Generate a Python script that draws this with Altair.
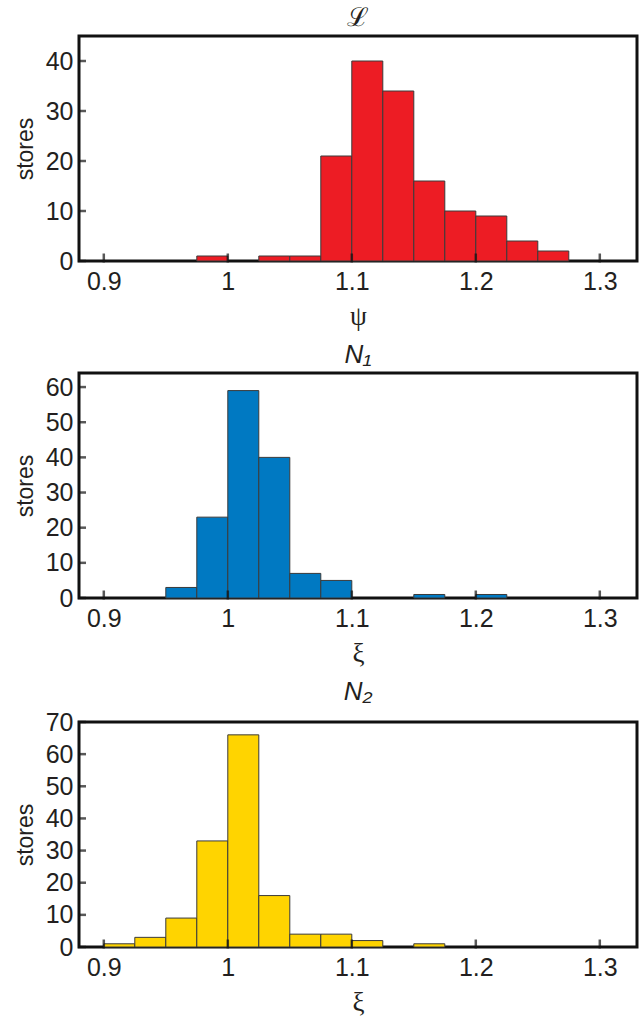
import altair as alt
import pandas as pd

# Histogram bins (width 0.025) and store counts for each panel
bin_width = 0.025

psi_starts = [0.975, 1.025, 1.05, 1.075, 1.1, 1.125, 1.15, 1.175, 1.2, 1.225, 1.25]
psi_counts = [1, 1, 1, 21, 40, 34, 16, 10, 9, 4, 2]

n1_starts = [0.95, 0.975, 1.0, 1.025, 1.05, 1.075, 1.15, 1.2]
n1_counts = [3, 23, 59, 40, 7, 5, 1, 1]

n2_starts = [0.9, 0.925, 0.95, 0.975, 1.0, 1.025, 1.05, 1.075, 1.1, 1.15]
n2_counts = [1, 3, 9, 33, 66, 16, 4, 4, 2, 1]

x_ticks = [0.9, 1.0, 1.1, 1.2, 1.3]
x_domain = [0.88, 1.33]

W, H = 558, 225
SANS = "Liberation Sans"
SERIF = "Liberation Serif"
INK = "#231f20"
FS = 25


def panel(starts, counts, color, title, title_font, title_style, x_title, y_max, y_ticks):
    df = pd.DataFrame({
        "start": starts,
        "end": [round(s + bin_width, 4) for s in starts],
        "count": counts,
        "zero": [0] * len(starts),
    })
    x_scale = alt.Scale(domain=x_domain, nice=False, zero=False)
    y_scale = alt.Scale(domain=[0, y_max], nice=False)

    x_axis = alt.Axis(values=x_ticks, format="~g", title=x_title,
                      titleFont=SERIF, titleFontSize=27, titleFontWeight="normal",
                      titleColor=INK, titlePadding=9,
                      labelFont=SANS, labelFontSize=FS, labelColor=INK,
                      labelPadding=8, labelOverlap=False,
                      ticks=False, domain=False, grid=False)
    y_axis = alt.Axis(values=y_ticks, title="stores",
                      titleFont=SANS, titleFontSize=23, titleFontWeight="normal",
                      titleColor=INK, titlePadding=8,
                      labelFont=SANS, labelFontSize=FS, labelColor=INK,
                      labelPadding=6, labelOverlap=False,
                      ticks=False, domain=False, grid=False)

    bars = alt.Chart(df).mark_bar(
        color=color, stroke="#3a3a3a", strokeWidth=1
    ).encode(
        x=alt.X("start:Q", scale=x_scale, axis=x_axis),
        x2="end:Q",
        y=alt.Y("count:Q", scale=y_scale, axis=y_axis),
        y2="zero:Q",
    )

    # inward tick marks on the frame
    xt = alt.Chart(pd.DataFrame({"v": x_ticks})).mark_tick(
        orient="vertical", size=9, thickness=2.5, color="#111"
    ).encode(x=alt.X("v:Q", scale=x_scale, axis=x_axis, title=x_title),
             y=alt.value(H - 3))

    yt = alt.Chart(pd.DataFrame({"v": y_ticks})).mark_tick(
        orient="horizontal", size=8, thickness=2.5, color="#111"
    ).encode(y=alt.Y("v:Q", scale=y_scale, axis=y_axis, title="stores"),
             x=alt.value(3))

    return alt.layer(bars, xt, yt).properties(
        width=W, height=H,
        title=alt.TitleParams(title, font=title_font, fontSize=26, fontWeight="normal",
                              fontStyle=title_style, color=INK, offset=5),
    )


top = panel(psi_starts, psi_counts, "#ed1c24", "ℒ", "DejaVu Serif", "normal",
            "ψ", 45, [0, 10, 20, 30, 40])
mid = panel(n1_starts, n1_counts, "#0079c2", "N₁", SANS, "italic",
            "ξ", 64, [0, 10, 20, 30, 40, 50, 60])
bot = panel(n2_starts, n2_counts, "#ffd400", "N₂", SANS, "italic",
            "ξ", 70, [0, 10, 20, 30, 40, 50, 60, 70])

chart = alt.vconcat(top, mid, bot, spacing=9).properties(
    padding={"left": 12, "top": 3, "right": 0, "bottom": 0},
    background="white",
).configure_view(
    stroke="#111", strokeWidth=3
)

chart.save("out.html", embed_options={"renderer": "svg", "actions": False})
